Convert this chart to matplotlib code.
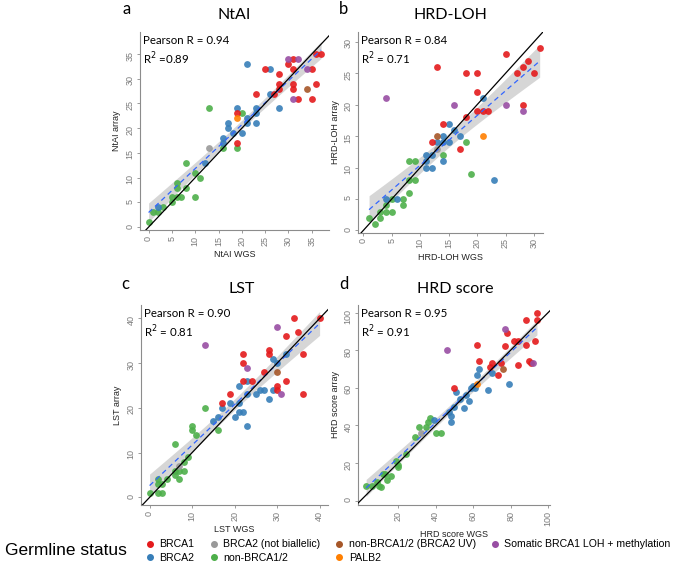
import matplotlib
matplotlib.use('Agg')
import matplotlib.pyplot as plt
import numpy as np
from matplotlib.lines import Line2D

# groups and colours (Set1 palette)
groups = ['BRCA1', 'BRCA2', 'BRCA2 (not biallelic)', 'non-BRCA1/2',
          'non-BRCA1/2 (BRCA2 UV)', 'PALB2', 'Somatic BRCA1 LOH + methylation']
colors = ['#E41A1C', '#377EB8', '#999999', '#4DAF4A', '#A65628', '#FF7F00', '#984EA3']

# ---- NtAI (WGS, array) ----
ntai_brca1 = [(19, 23), (19, 17), (23, 27), (25, 32), (27, 27), (28, 28), (28, 29), (28, 31),
              (30, 33), (31, 34), (31, 32), (31, 29), (31, 28), (32, 26), (35, 26), (35, 32),
              (36, 29), (36, 35), (37, 35)]
ntai_brca2 = [(2, 4), (12, 13), (16, 17), (16, 18), (17, 20), (17, 21), (18, 19), (20, 19),
              (19, 24), (21, 22), (21, 21), (21, 33), (23, 21), (23, 23), (23, 24), (26, 27),
              (26, 32), (28, 24)]
ntai_nb = [(13, 16)]
ntai_non = [(0, 1), (1, 3), (2, 3), (3, 4), (5, 5), (5, 6), (6, 6), (7, 6), (6, 8), (6, 9),
            (8, 8), (8, 13), (10, 6), (10, 11), (11, 10), (13, 24), (16, 16), (19, 16), (20, 23)]
ntai_uv = [(34, 28)]
ntai_palb2 = [(19, 22)]
ntai_som = [(30, 34), (32, 34), (31, 26), (34, 32)]

# ---- HRD-LOH ----
loh_brca1 = [(12, 14), (13, 26), (14, 17), (17, 13), (18, 25), (18, 18), (20, 25), (20, 22),
             (20, 19), (21, 19), (22, 19), (25, 28), (27, 25), (28, 26), (29, 27), (30, 25),
             (28, 20), (31, 29)]
loh_brca2 = [(6, 5), (4, 5), (11, 10), (12, 10), (11, 11), (11, 12), (12, 12), (13, 14), (14, 14),
             (15, 14), (14, 15), (14, 11), (15, 17), (16, 16), (17, 15), (21, 21), (23, 8)]
loh_nb = [(13, 13)]
loh_non = [(1, 2), (2, 1), (3, 2), (3, 3), (4, 3), (5, 3), (4, 4), (5, 5), (7, 4), (7, 5),
           (8, 6), (8, 8), (9, 8), (8, 11), (9, 11), (14, 12), (18, 14), (19, 9)]
loh_uv = [(13, 15)]
loh_palb2 = [(21, 15)]
loh_som = [(4, 21), (16, 20), (25, 20), (28, 19)]

# ---- LST ----
lst_brca1 = [(17, 21), (19, 23), (22, 26), (24, 26), (22, 30), (22, 32), (27, 28), (28, 32),
             (28, 33), (30, 24), (30, 25), (32, 26), (32, 36), (34, 40), (35, 37), (36, 32),
             (36, 23), (40, 40)]
lst_brca2 = [(15, 17), (16, 18), (17, 20), (19, 21), (20, 18), (21, 19), (22, 19), (23, 16),
             (21, 21), (21, 25), (23, 23), (23, 26), (25, 23), (26, 24), (27, 24), (28, 22),
             (29, 24), (29, 31), (30, 30), (32, 32)]
lst_nb = [(7, 7)]
lst_non = [(0, 1), (2, 1), (3, 1), (2, 3), (3, 3), (2, 4), (4, 4), (7, 4), (6, 5), (6, 6),
           (7, 6), (8, 6), (8, 8), (9, 9), (6, 12), (10, 15), (10, 16), (11, 14), (13, 20), (16, 15)]
lst_uv = [(30, 28)]
lst_palb2 = []
lst_som = [(13, 34), (23, 29), (30, 38), (31, 23)]

# ---- HRD score ----
hrd_brca1 = [(50, 60), (62, 83), (63, 74), (69, 71), (70, 73), (73, 67), (75, 73), (77, 82),
             (78, 89), (82, 85), (84, 85), (84, 72), (88, 83), (88, 96), (90, 74), (91, 73),
             (93, 85), (94, 96), (94, 100)]
hrd_brca2 = [(39, 43), (47, 47), (48, 45), (48, 42), (50, 50), (55, 49), (53, 54), (58, 53),
             (56, 56), (51, 58), (59, 60), (60, 61), (61, 60), (62, 67), (63, 70), (68, 59),
             (70, 68), (79, 62)]
hrd_nb = [(32, 36)]
hrd_non = [(3, 8), (6, 8), (9, 10), (10, 8), (11, 7), (12, 14), (13, 14), (14, 11), (16, 13),
           (19, 21), (20, 19), (20, 18), (24, 25), (29, 34), (31, 39), (35, 39), (36, 42),
           (37, 44), (40, 36), (43, 36)]
hrd_uv = [(76, 70)]
hrd_palb2 = [(62, 62)]
hrd_som = [(46, 80), (77, 91), (92, 73)]

panels = [
    ('a', 'NtAI', 'NtAI WGS', 'NtAI array', 'Pearson R = 0.94\nR$^2$ =0.89',
     [ntai_brca1, ntai_brca2, ntai_nb, ntai_non, ntai_uv, ntai_palb2, ntai_som],
     (-1.9, 38.8), (-0.6, 39.5), np.arange(0, 36, 5), np.arange(0, 36, 5),
     [0.204, 0.595, 0.277, 0.349], (127, 9), (234, 15)),
    ('b', 'HRD-LOH', 'HRD-LOH WGS', 'HRD-LOH array', 'Pearson R = 0.84\nR$^2$ = 0.71',
     [loh_brca1, loh_brca2, loh_nb, loh_non, loh_uv, loh_palb2, loh_som],
     (-0.9, 31.5), (-0.4, 31.6), np.arange(0, 31, 5), np.arange(0, 31, 5),
     [0.523, 0.590, 0.269, 0.354], (344, 9), (450, 15)),
    ('c', 'LST', 'LST WGS', 'LST array', 'Pearson R = 0.90\nR$^2$ = 0.81',
     [lst_brca1, lst_brca2, lst_nb, lst_non, lst_uv, lst_palb2, lst_som],
     (-2.0, 42.0), (-1.7, 43.0), np.arange(0, 41, 10), np.arange(0, 41, 10),
     [0.206, 0.111, 0.273, 0.352], (125, 284), (242, 289)),
    ('d', 'HRD score', 'HRD score WGS', 'HRD score array', 'Pearson R = 0.95\nR$^2$ = 0.91',
     [hrd_brca1, hrd_brca2, hrd_nb, hrd_non, hrd_uv, hrd_palb2, hrd_som],
     (-1.2, 101), (-2.3, 104), np.arange(20, 101, 20), np.arange(0, 101, 20),
     [0.523, 0.111, 0.280, 0.352], (344, 284), (455, 289)),
]

title_font = ['Lato', 'DejaVu Sans']
axis_font = ['Liberation Sans', 'DejaVu Sans']

W, H = 685, 568
fig = plt.figure(figsize=(6.85, 5.68), dpi=100)

for letter, title, xlab, ylab, stat, data, xlim, ylim, xt, yt, rect, lpos, tpos in panels:
    ax = fig.add_axes(rect)
    allx = np.array([p[0] for g in data for p in g], dtype=float)
    ally = np.array([p[1] for g in data for p in g], dtype=float)

    # linear fit with 95% confidence band
    slope, icpt = np.polyfit(allx, ally, 1)
    xs = np.linspace(allx.min(), allx.max(), 100)
    yhat = icpt + slope * xs
    n = len(allx)
    resid = ally - (icpt + slope * allx)
    s = np.sqrt(np.sum(resid ** 2) / (n - 2))
    se = s * np.sqrt(1 / n + (xs - allx.mean()) ** 2 / np.sum((allx - allx.mean()) ** 2))
    ax.fill_between(xs, yhat - 2.0 * se, yhat + 2.0 * se, color='#999999', alpha=0.4,
                    linewidth=0, zorder=1)

    for g in [3, 2, 1, 0, 4, 5, 6]:
        pts = data[g]
        if len(pts) == 0:
            continue
        ax.scatter([p[0] for p in pts], [p[1] for p in pts], s=24, color=colors[g], alpha=0.9,
                   linewidths=0, zorder=2)

    ax.plot(xs, yhat, color='#3366FF', linestyle=(0, (4, 3)), linewidth=0.9, zorder=3)
    ax.axline((0, 0), slope=1, color='black', linewidth=0.9, zorder=3)

    ax.set_xlim(*xlim)
    ax.set_ylim(*ylim)
    ax.set_xticks(xt)
    ax.set_yticks(yt)
    for sp in ['top', 'right']:
        ax.spines[sp].set_visible(False)
    for sp in ['left', 'bottom']:
        ax.spines[sp].set_color('#8c8c8c')
        ax.spines[sp].set_linewidth(0.8)
    ax.tick_params(colors='#8c8c8c', labelcolor='#7a7a7a', labelsize=6.5, length=2.5,
                   width=0.6, pad=1.5)
    for lab in ax.get_xticklabels() + ax.get_yticklabels():
        lab.set_rotation(90)
        lab.set_family(axis_font)
    ax.set_xlabel(xlab, fontsize=6.5, family=axis_font, color='#222222', labelpad=3)
    ax.set_ylabel(ylab, fontsize=6.5, family=axis_font, color='#222222', labelpad=3)

    ax.text(0.015, 0.985, stat, transform=ax.transAxes, ha='left', va='top', fontsize=8.3,
            family=title_font, linespacing=1.35)

    fig.text(tpos[0] / W, 1 - tpos[1] / H, title, ha='center', va='center',
             fontsize=11.5, family=title_font)
    fig.text(lpos[0] / W, 1 - lpos[1] / H, letter, ha='center', va='center',
             fontsize=12, family=title_font)

handles = [Line2D([], [], marker='o', linestyle='', markersize=4, color=c) for c in colors]
fig.legend(handles, groups, ncol=4, loc='lower left', bbox_to_anchor=(0.196, -0.008),
           frameon=False, handletextpad=0.3, columnspacing=1.2,
           labelspacing=0.35, handlelength=1.2, prop={'family': axis_font, 'size': 7.6})
fig.text(0.007, 0.03, 'Germline status', fontsize=12.5, family=axis_font, va='center')

fig.savefig('out.png', dpi=100)
